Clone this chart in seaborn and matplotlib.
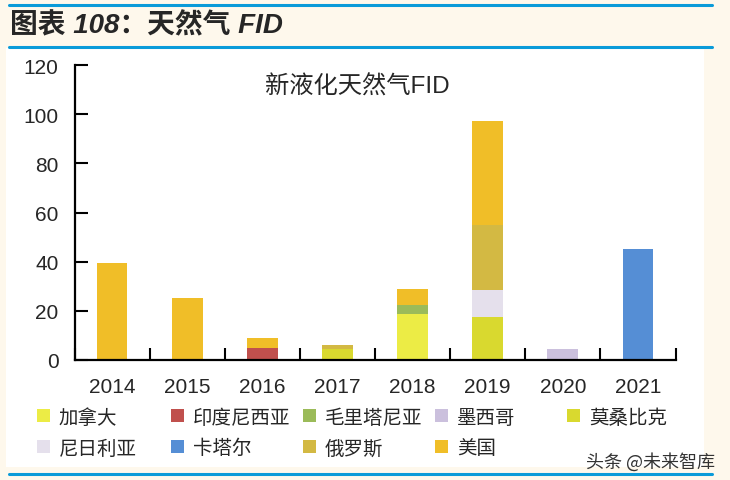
import numpy as np
import pandas as pd
import matplotlib
matplotlib.use("Agg")
import matplotlib.pyplot as plt
import seaborn as sns
from matplotlib.patches import Patch, Rectangle
from matplotlib.lines import Line2D
from matplotlib.ticker import FixedLocator

# Données
years = ['2014', '2015', '2016', '2017', '2018', '2019', '2020', '2021']
countries = ['加拿大', '印度尼西亚', '毛里塔尼亚', '墨西哥', '莫桑比克',
             '尼日利亚', '卡塔尔', '俄罗斯', '美国']
canada = [0, 0, 0, 0, 18.8, 0, 0, 0]
indonesia = [0, 0, 5.0, 0, 0, 0, 0, 0]
mauritania = [0, 0, 0, 0, 3.6, 0, 0, 0]
mexico = [0, 0, 0, 0, 0, 0, 4.5, 0]
mozambique = [0, 0, 0, 4.5, 0, 17.6, 0, 0]
nigeria = [0, 0, 0, 0, 0, 11.0, 0, 0]
qatar = [0, 0, 0, 0, 0, 0, 0, 45.3]
russia = [0, 0, 0, 1.6, 0, 26.5, 0, 0]
usa = [39.5, 25.3, 4.1, 0, 6.6, 42.0, 0, 0]
colors = ['#ECEC45', '#C0504D', '#9BBB59', '#CBC0DD', '#D9D92F',
          '#E5E0EC', '#558ED5', '#D3B943', '#F0BE28']

series = [canada, indonesia, mauritania, mexico, mozambique,
          nigeria, qatar, russia, usa]

df = pd.DataFrame({c: s for c, s in zip(countries, series)}, index=years)
cum = df.cumsum(axis=1)

sns.set_theme(style="ticks")
plt.rcParams['font.family'] = ['Noto Sans CJK SC', 'DejaVu Sans']
MIX = ['Liberation Sans', 'Noto Sans CJK SC', 'DejaVu Sans']

BG = '#FEF8EC'
BLUE = '#0A9BD9'

fig = plt.figure(figsize=(7.30, 4.81), dpi=100, facecolor=BG)
W, H = 730, 481

# panneau blanc + lignes bleues
fig.patches.append(Rectangle((6 / W, 1 - 468 / H), 698 / W, 419 / H,
                             transform=fig.transFigure, facecolor='white',
                             edgecolor='none', zorder=-5))
for yy in [5.5, 47.5, 475]:
    fig.lines.append(Line2D([9 / W, 712 / W], [1 - yy / H, 1 - yy / H],
                            transform=fig.transFigure, color=BLUE, lw=2.2,
                            zorder=-4))

fig.text(10 / W, 1 - 26 / H, '图表 108：天然气 FID', fontsize=20,
         fontweight='bold', fontstyle='italic', va='center', ha='left',
         family=MIX)

ax = fig.add_axes([74.5 / W, 1 - 361 / H, 601 / W, 295 / H])
ax.set_facecolor('white')
ax.set_zorder(2)

# barres empilées : on trace les cumuls du haut vers le bas
for c, col in reversed(list(zip(countries, colors))):
    h = cum[c].where(df[c] > 0, 0)
    sns.barplot(x=years, y=h.values, order=years, color=col, width=0.41,
                linewidth=0, saturation=1, ax=ax)

ax.set_xlim(-0.5, 7.5)
ax.set_ylim(0, 120)
ax.set_yticks(np.arange(0, 121, 20))
ax.set_xticks(range(len(years)))
ax.set_xticklabels(years)
ax.xaxis.set_minor_locator(FixedLocator(np.arange(-0.5, 7.6, 1)))
ax.tick_params(axis='x', which='major', length=0, pad=12, labelsize=15)
ax.tick_params(axis='x', which='minor', length=9, width=1.5,
               direction='in', color='black')
ax.tick_params(axis='y', length=9, width=1.5, direction='in',
               color='black', pad=11.5, labelsize=15)
for lab in ax.get_xticklabels() + ax.get_yticklabels():
    lab.set_family(['Liberation Sans', 'DejaVu Sans'])
for s in ['top', 'right']:
    ax.spines[s].set_visible(False)
for s in ['left', 'bottom']:
    ax.spines[s].set_color('black')
    ax.spines[s].set_linewidth(1.6)
ax.set_xlabel('')
ax.set_ylabel('')

ax.text(0.47, 0.93, '新液化天然气FID', transform=ax.transAxes, ha='center',
        va='center', fontsize=17.5, family=MIX)

# légende : une entrée par position
pos_x = [37, 171, 303, 435, 567]
pos_y = [418, 449]
for i, (c, col) in enumerate(zip(countries, colors)):
    r, k = divmod(i, 5)
    fig.legend(handles=[Patch(facecolor=col, edgecolor='none')], labels=[c],
               loc='center left',
               bbox_to_anchor=(pos_x[k] / W, 1 - pos_y[r] / H),
               frameon=False, fontsize=14, handlelength=0.68,
               handleheight=0.68, handletextpad=0.45, borderpad=0,
               borderaxespad=0)

fig.text(650 / W, 1 - 462 / H, '头条 @未来智库', fontsize=13, color='#333333',
         ha='center', va='center')

fig.savefig('out.png', dpi=100, facecolor=BG)
